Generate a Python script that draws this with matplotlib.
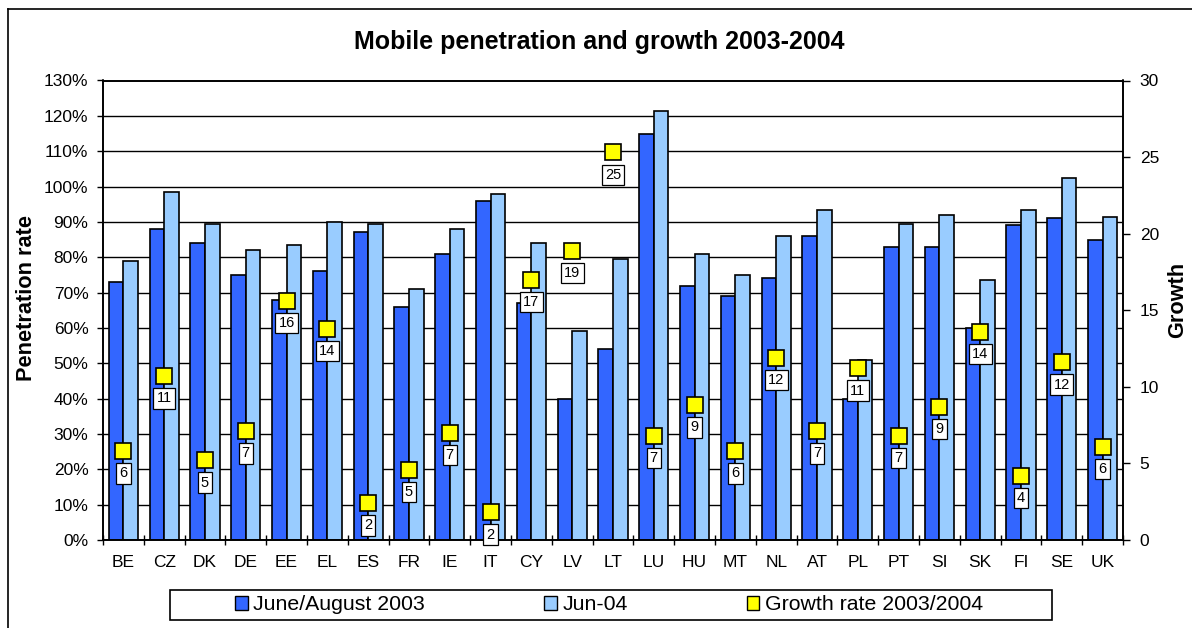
import matplotlib
matplotlib.use("Agg")
import matplotlib.pyplot as plt
import numpy as np
from matplotlib.patches import Rectangle
from matplotlib.lines import Line2D

plt.rcParams['font.family'] = ['Liberation Sans', 'DejaVu Sans']

countries = ["BE", "CZ", "DK", "DE", "EE", "EL", "ES", "FR", "IE", "IT", "CY", "LV", "LT",
             "LU", "HU", "MT", "NL", "AT", "PL", "PT", "SI", "SK", "FI", "SE", "UK"]
pen_2003 = [73, 88, 84, 75, 68, 76, 87, 66, 81, 96, 67, 40, 54,
            115, 72, 69, 74, 86, 40, 83, 83, 60, 89, 91, 85]
pen_2004 = [79, 98.5, 89.5, 82, 83.5, 90, 89.5, 71, 88, 98, 84, 59, 79.5,
            121.5, 81, 75, 86, 93.5, 51, 89.5, 92, 73.5, 93.5, 102.5, 91.5]
growth = [5.8, 10.7, 5.2, 7.1, 15.6, 13.8, 2.4, 4.6, 7.0, 1.8, 17.0, 18.9, 25.3,
          6.8, 8.8, 5.8, 11.9, 7.1, 11.2, 6.8, 8.7, 13.6, 4.2, 11.6, 6.1]
growth_labels = [6, 11, 5, 7, 16, 14, 2, 5, 7, 2, 17, 19, 25,
                 7, 9, 6, 12, 7, 11, 7, 9, 14, 4, 12, 6]

W, H = 1192, 628
fig = plt.figure(figsize=(W / 100, H / 100), dpi=100)
fig.patch.set_facecolor('white')

ax = fig.add_axes([103 / W, 1 - 540 / H, (1123 - 103) / W, (540 - 80.5) / H])
ax2 = ax.twinx()

x = np.arange(len(countries))
bw = 0.36
c_dark = '#3366FF'
c_light = '#99CCFF'
ax.bar(x - bw / 2, pen_2003, bw, color=c_dark, edgecolor='black', linewidth=1.2, zorder=2)
ax.bar(x + bw / 2, pen_2004, bw, color=c_light, edgecolor='black', linewidth=1.2, zorder=2)

ax.set_xlim(-0.5, len(countries) - 0.5)
ax.set_ylim(0, 130)
ax.set_yticks(np.arange(0, 131, 10))
ax.set_yticklabels([f"{v}%" for v in range(0, 131, 10)])
ax.yaxis.grid(True, color='black', linewidth=1)
ax.set_axisbelow(True)
ax.tick_params(axis='y', direction='out', length=4.5, width=1, labelsize=12.5, pad=6)

ax.set_xticks(x)
ax.set_xticklabels(countries)
ax.set_xticks(np.arange(-0.5, len(countries), 1), minor=True)
ax.tick_params(axis='x', which='major', length=0, labelsize=12.5, pad=11)
ax.tick_params(axis='x', which='minor', direction='inout', length=7, width=1)

for s in ax.spines.values():
    s.set_linewidth(1.2)
    s.set_color('black')

ax2.set_ylim(0, 30)
ax2.set_yticks(np.arange(0, 31, 5))
ax2.tick_params(axis='y', direction='out', length=5, width=1, labelsize=12.5, pad=7)
for s in ax2.spines.values():
    s.set_linewidth(1.2)

ax2.plot(x, growth, linestyle='none', marker='s', markersize=11.5,
         markerfacecolor='#FFFF00', markeredgecolor='black', markeredgewidth=1.2, zorder=5)
for xi, g, lab in zip(x, growth, growth_labels):
    ax2.annotate(str(lab), (xi, g), xytext=(0, -16), textcoords='offset points',
                 ha='center', va='center', fontsize=10.5,
                 bbox=dict(boxstyle='square,pad=0.22', facecolor='white',
                           edgecolor='black', linewidth=0.9), zorder=6)

fig.text(599 / W, 1 - 42 / H, "Mobile penetration and growth 2003-2004",
         ha='center', va='center', fontsize=18, fontweight='bold')
fig.text(27 / W, 1 - 298 / H, "Penetration rate", rotation=90, ha='center', va='center',
         fontsize=15.7, fontweight='bold')
fig.text(1178 / W, 1 - 300 / H, "Growth", rotation=90, ha='center', va='center',
         fontsize=15.7, fontweight='bold')

# legend frame
fig.add_artist(Rectangle((170 / W, 1 - 620 / H), (1052 - 170) / W, 30 / H,
                         transform=fig.transFigure, facecolor='white',
                         edgecolor='black', linewidth=1.2, zorder=1))
handles = [Rectangle((0, 0), 1, 1, facecolor=c_dark, edgecolor='black', linewidth=1),
           Rectangle((0, 0), 1, 1, facecolor=c_light, edgecolor='black', linewidth=1),
           Rectangle((0, 0), 1, 1, facecolor='#FFFF00', edgecolor='black', linewidth=1)]
leg = fig.legend(handles, ["June/August 2003", "Jun-04", "Growth rate 2003/2004"],
                 loc='center', bbox_to_anchor=(609 / W, 1 - 605 / H), ncol=3,
                 frameon=False, fontsize=15.3, handlelength=0.6, handleheight=0.6,
                 handletextpad=0.25, columnspacing=5.6, borderpad=0.2)
leg.set_zorder(2)

# figure border
fig.add_artist(Line2D([8 / W, 8 / W], [0, 1 - 9 / H], transform=fig.transFigure,
                      color='black', linewidth=1.2))
fig.add_artist(Line2D([8 / W, 1], [1 - 9 / H, 1 - 9 / H], transform=fig.transFigure,
                      color='black', linewidth=1.2))

fig.savefig("out.png", dpi=100, facecolor='white')
